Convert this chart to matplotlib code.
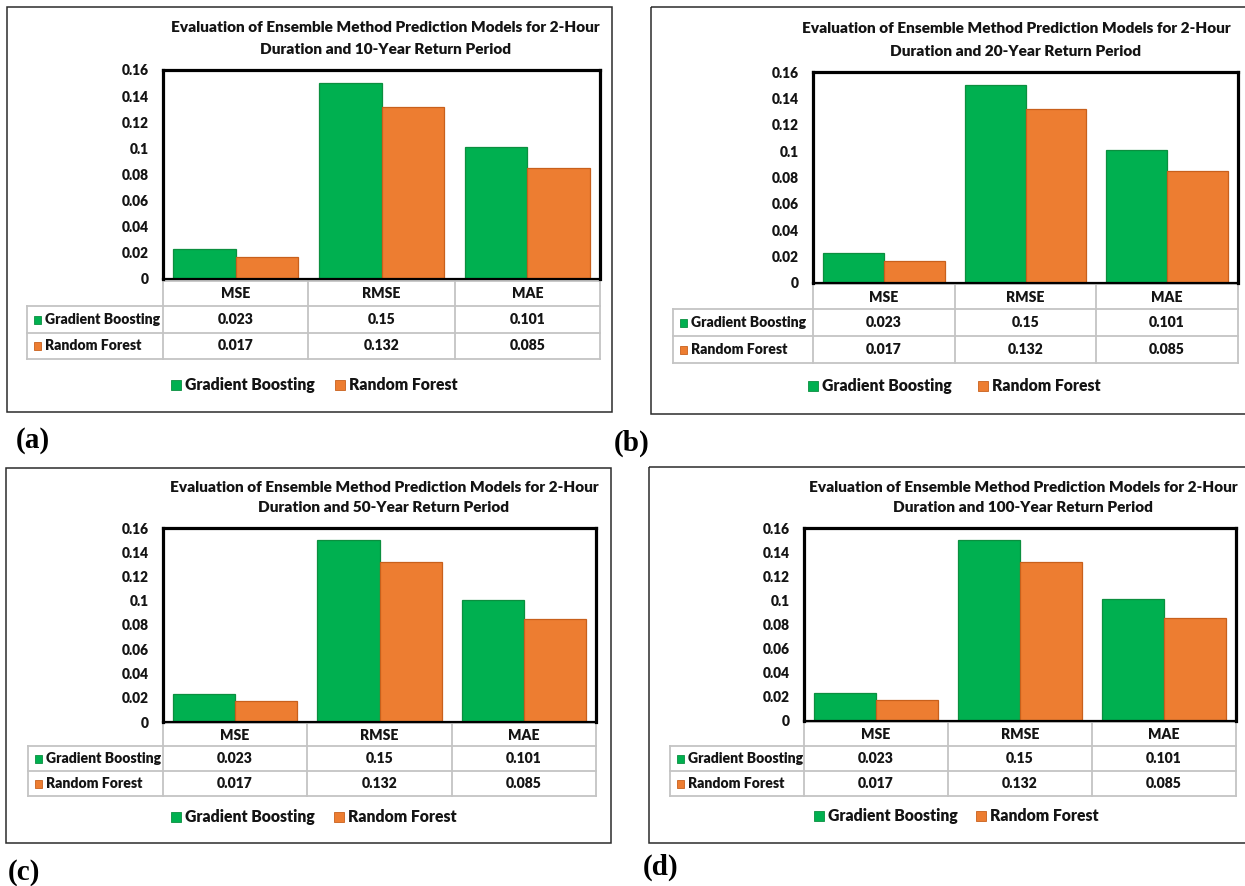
import matplotlib
matplotlib.use("Agg")
import matplotlib.pyplot as plt
from matplotlib.patches import Rectangle
from matplotlib.lines import Line2D
from matplotlib.ticker import FixedLocator, FuncFormatter, NullLocator

# ---- data -------------------------------------------------------------
categories = ["MSE", "RMSE", "MAE"]
gradient_boosting = [0.023, 0.15, 0.101]
random_forest = [0.017, 0.132, 0.085]
series_names = ["Gradient Boosting", "Random Forest"]
return_periods = [10, 20, 50, 100]
panel_tags = ["(a)", "(b)", "(c)", "(d)"]
y_ticks = [0, 0.02, 0.04, 0.06, 0.08, 0.1, 0.12, 0.14, 0.16]

# ---- style ------------------------------------------------------------
plt.rcParams["font.family"] = ["Lato", "DejaVu Sans"]
GREEN, GREEN_EDGE = "#00B050", "#0B8F3F"
ORANGE, ORANGE_EDGE = "#ED7D31", "#C8601C"
RULE = "#C4C4C4"
TEXT = "#141414"
WEIGHT = "heavy"

W, H = 1245, 886
fig = plt.figure(figsize=(W / 100, H / 100), dpi=100)
fig.patch.set_facecolor("white")

# full-figure canvas in pixel units for frames, tables and labels
cv = fig.add_axes([0, 0, 1, 1], zorder=0)
cv.set_xlim(0, W)
cv.set_ylim(H, 0)
cv.axis("off")

# per-panel layout in pixels
layouts = [
    dict(box=(7, 7, 612, 412), tx=385, ty=(27, 49), plot=(163, 70, 600, 279),
         rows=(281, 306, 333, 359), cols=(27, 163, 308, 455, 600),
         leg_y=385, leg_x=(171, 335), tag=(16, 440)),
    dict(box=(651, 7, 1252, 414), tx=1016, ty=(28, 51), plot=(813, 72, 1238, 283),
         rows=(284, 309, 336, 363), cols=(673, 813, 955, 1096, 1238),
         leg_y=386, leg_x=(808, 978), tag=(614, 443)),
    dict(box=(6, 468, 611, 843), tx=384, ty=(487, 508), plot=(163, 528, 596, 722),
         rows=(723, 746, 771, 796), cols=(28, 163, 307, 452, 596),
         leg_y=817, leg_x=(171, 334), tag=(8, 873)),
    dict(box=(649, 467, 1252, 843), tx=1023, ty=(487, 508), plot=(804, 528, 1236, 721),
         rows=(722, 746, 771, 796), cols=(670, 804, 948, 1092, 1236),
         leg_y=816, leg_x=(814, 976), tag=(643, 867)),
]

series_values = [gradient_boosting, random_forest]
fills = [GREEN, ORANGE]
edges = [GREEN_EDGE, ORANGE_EDGE]
bar_w = 0.43

TITLE_FS = 11.1
TABLE_FS = 10.1
LEGEND_FS = 11.3
TICK_FS = 9.9

for lay, period, tag in zip(layouts, return_periods, panel_tags):
    bx0, by0, bx1, by1 = lay["box"]
    cv.add_patch(Rectangle((bx0, by0), bx1 - bx0, by1 - by0, fill=False,
                           edgecolor="#2B2B2B", linewidth=1.1, zorder=1))

    # title
    cv.text(lay["tx"], lay["ty"][0],
            "Evaluation of Ensemble Method Prediction Models for 2-Hour",
            ha="center", va="center", fontsize=TITLE_FS, fontweight=WEIGHT, color=TEXT)
    cv.text(lay["tx"], lay["ty"][1], f"Duration and {period}-Year Return Period",
            ha="center", va="center", fontsize=TITLE_FS, fontweight=WEIGHT, color=TEXT)

    # bar chart
    px0, py0, px1, py1 = lay["plot"]
    ax = fig.add_axes([px0 / W, 1 - py1 / H, (px1 - px0) / W, (py1 - py0) / H], zorder=2)
    x = list(range(len(categories)))
    for k, vals in enumerate(series_values):
        off = (k - 0.5) * bar_w
        ax.bar([i + off for i in x], vals, width=bar_w, color=fills[k],
               edgecolor=edges[k], linewidth=0.9, zorder=2)
    ax.set_xlim(-0.5, len(categories) - 0.5)
    ax.set_ylim(0, 0.16)
    ax.yaxis.set_major_locator(FixedLocator(y_ticks))
    ax.yaxis.set_major_formatter(FuncFormatter(lambda v, p: f"{v:g}"))
    ax.xaxis.set_major_locator(NullLocator())
    ax.tick_params(axis="y", length=0, pad=10, labelsize=TICK_FS, labelcolor=TEXT)
    for lbl in ax.get_yticklabels():
        lbl.set_fontweight(WEIGHT)
    for s in ax.spines.values():
        s.set_color("black")
        s.set_linewidth(2.3)
    ax.spines["bottom"].set_linewidth(1.6)

    # data table under the plot
    r0, r1, r2, r3 = lay["rows"]
    c_left, c0, c1, c2, c3 = lay["cols"]
    lw = 1.3
    cv.add_line(Line2D([c0, c3], [r0, r0], color=RULE, lw=lw, zorder=1))
    for yy in (r1, r2, r3):
        cv.add_line(Line2D([c_left, c3], [yy, yy], color=RULE, lw=lw, zorder=1))
    for xx in (c0, c1, c2, c3):
        cv.add_line(Line2D([xx, xx], [r0, r3], color=RULE, lw=lw, zorder=1))
    cv.add_line(Line2D([c_left, c_left], [r1, r3], color=RULE, lw=lw, zorder=1))

    col_edges = [c0, c1, c2, c3]
    for j, cat in enumerate(categories):
        cx = (col_edges[j] + col_edges[j + 1]) / 2
        cv.text(cx, (r0 + r1) / 2 + 0.5, cat, ha="center", va="center",
                fontsize=TABLE_FS, fontweight=WEIGHT, color=TEXT)
    row_mid = [(r1 + r2) / 2, (r2 + r3) / 2]
    for k, (name, vals) in enumerate(zip(series_names, series_values)):
        ym = row_mid[k]
        cv.add_patch(Rectangle((c_left + 7, ym - 4), 7, 8, facecolor=fills[k],
                               edgecolor=edges[k], linewidth=0.6, zorder=2))
        cv.text(c_left + 18, ym, name, ha="left", va="center",
                fontsize=TABLE_FS, fontweight=WEIGHT, color=TEXT)
        for j, v in enumerate(vals):
            cx = (col_edges[j] + col_edges[j + 1]) / 2
            cv.text(cx, ym, f"{v:g}", ha="center", va="center",
                    fontsize=TABLE_FS, fontweight=WEIGHT, color=TEXT)

    # legend
    ly = lay["leg_y"]
    for k, name in enumerate(series_names):
        lx = lay["leg_x"][k]
        cv.add_patch(Rectangle((lx, ly - 5), 9.5, 10, facecolor=fills[k],
                               edgecolor=edges[k], linewidth=0.6, zorder=2))
        cv.text(lx + 14, ly, name, ha="left", va="center",
                fontsize=LEGEND_FS, fontweight=WEIGHT, color=TEXT)

    # panel tag
    cv.text(lay["tag"][0], lay["tag"][1], tag, ha="left", va="center",
            fontsize=21, fontweight="bold", family="Liberation Serif", color="black")

fig.savefig("out.png", dpi=100, facecolor="white")
